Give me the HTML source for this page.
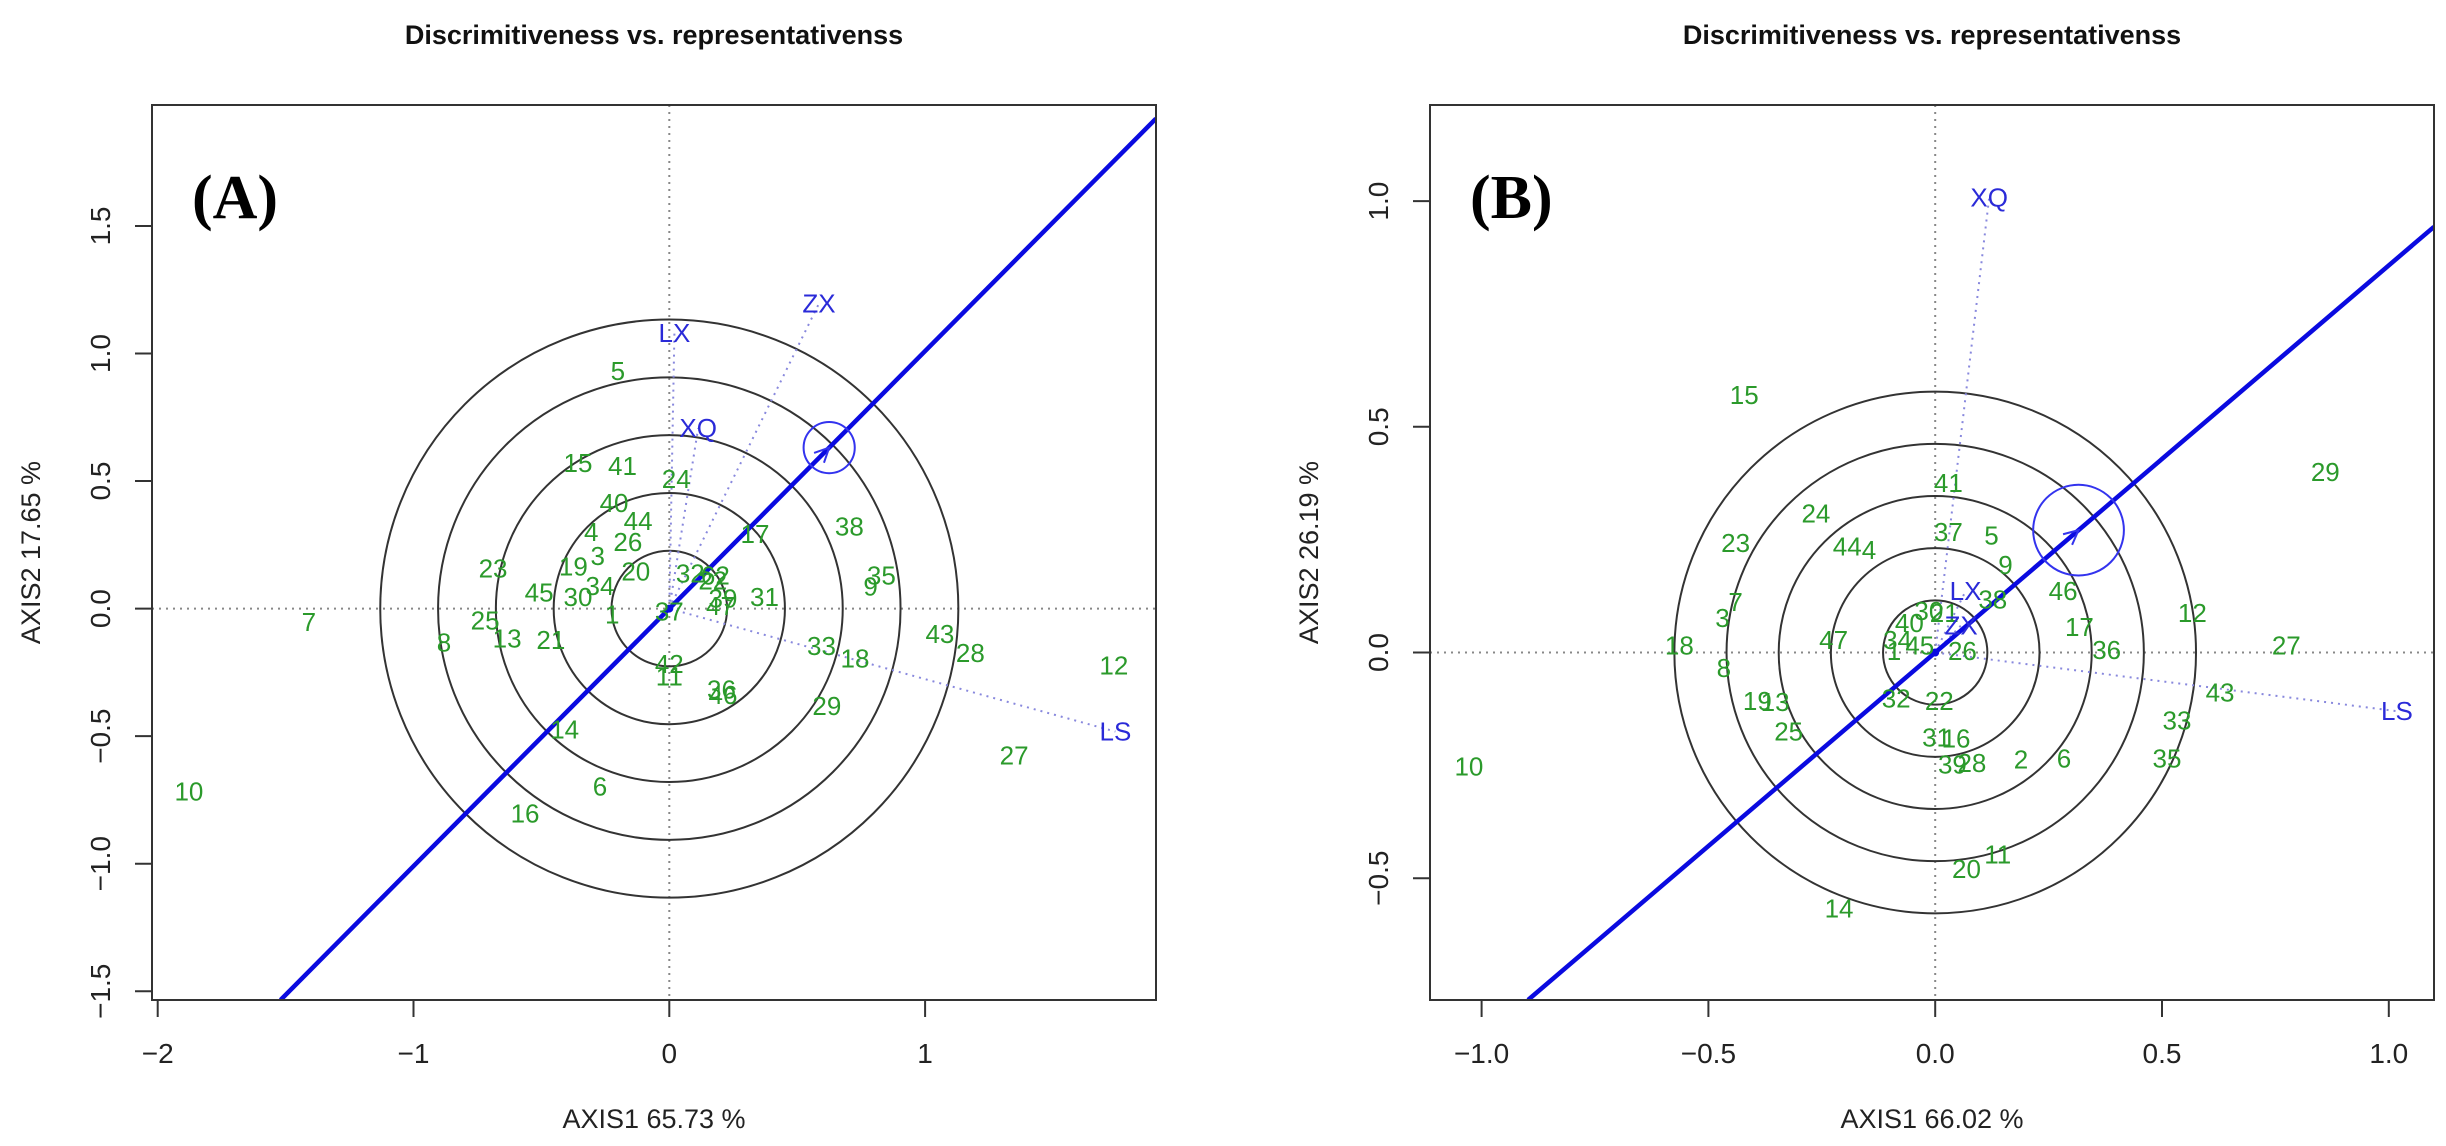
<!DOCTYPE html>
<html><head><meta charset="utf-8">
<style>
html,body{margin:0;padding:0;background:#fff;width:2446px;height:1146px;overflow:hidden;}
svg{display:block;font-family:"Liberation Sans",Arial,sans-serif;}
</style></head>
<body>
<svg id="chart" width="2446" height="1146" viewBox="0 0 2446 1146" xmlns="http://www.w3.org/2000/svg"></svg>
<script>
// ---------- Panel A data ----------
const aGenotypes = ["5","15","41","24","40","44","4","26","17","38","3","19","23","20","32","62","35","9","45","30","34","31","1","37","7","25","13","21","8","33","18","43","28","12","42","11","36","46","29","14","27","6","16","10","22","47","39"];
const aGx = [-0.201,-0.357,-0.183,0.027,-0.216,-0.122,-0.305,-0.162,0.335,0.704,-0.280,-0.375,-0.689,-0.131,0.082,0.180,0.829,0.787,-0.509,-0.357,-0.271,0.372,-0.223,0.0,-1.409,-0.72,-0.634,-0.463,-0.881,0.595,0.726,1.058,1.177,1.738,0.0,0.0,0.204,0.21,0.616,-0.409,1.348,-0.271,-0.564,-1.878,0.17,0.20,0.21];
const aGy = [0.932,0.571,0.559,0.508,0.413,0.344,0.301,0.261,0.293,0.321,0.206,0.166,0.158,0.146,0.138,0.13,0.129,0.086,0.063,0.046,0.089,0.046,-0.023,-0.011,-0.052,-0.046,-0.118,-0.123,-0.132,-0.146,-0.195,-0.1,-0.175,-0.224,-0.218,-0.267,-0.318,-0.338,-0.381,-0.473,-0.576,-0.697,-0.803,-0.717,0.11,0.01,0.04];
const aEnvNames = ["ZX","LX","XQ","LS"];
const aEnvX = [0.585,0.02,0.113,1.744];
const aEnvY = [1.196,1.08,0.708,-0.482];
const aCircleRadii = [0.226,0.452,0.678,0.904,1.13];
const aAEC = [0.625,0.631];
const aXTicks = [-2,-1,0,1];
const aXTickLabels = ["\u22122","\u22121","0","1"];
const aYTicks = [-1.5,-1.0,-0.5,0.0,0.5,1.0,1.5];
const aYTickLabels = ["\u22121.5","\u22121.0","\u22120.5","0.0","0.5","1.0","1.5"];

// ---------- Panel B data ----------
const bGenotypes = ["15","29","41","24","23","37","5","44","4","9","46","38","12","7","3","17","36","27","18","47","8","30","40","34","45","1","26","21","43","32","22","19","13","33","25","31","16","35","10","39","28","2","6","11","20","14"];
const bGx = [-0.421,0.860,0.029,-0.263,-0.440,0.029,0.124,-0.194,-0.146,0.155,0.282,0.127,0.567,-0.44,-0.469,0.318,0.378,0.774,-0.564,-0.224,-0.466,-0.014,-0.057,-0.083,-0.034,-0.091,0.06,0.02,0.628,-0.086,0.009,-0.392,-0.353,0.533,-0.323,0.003,0.046,0.511,-1.028,0.038,0.081,0.189,0.284,0.138,0.069,-0.212];
const bGy = [0.571,0.400,0.376,0.308,0.243,0.267,0.259,0.235,0.227,0.194,0.136,0.117,0.088,0.112,0.076,0.057,0.006,0.015,0.015,0.028,-0.034,0.092,0.065,0.028,0.016,0.003,0.003,0.088,-0.089,-0.102,-0.107,-0.107,-0.11,-0.151,-0.175,-0.188,-0.191,-0.235,-0.253,-0.248,-0.245,-0.237,-0.235,-0.447,-0.48,-0.567];
const bEnvNames = ["XQ","LX","ZX","LS"];
const bEnvX = [0.119,0.067,0.057,1.018];
const bEnvY = [1.008,0.136,0.06,-0.13];
const bCircleRadii = [0.115,0.23,0.345,0.46,0.575];
const bAEC = [0.316,0.271];
const bXTicks = [-1.0,-0.5,0.0,0.5,1.0];
const bXTickLabels = ["\u22121.0","\u22120.5","0.0","0.5","1.0"];
const bYTicks = [-0.5,0.0,0.5,1.0];
const bYTickLabels = ["\u22120.5","0.0","0.5","1.0"];

const NS = "http://www.w3.org/2000/svg";
const svg = document.getElementById("chart");
function mk(tag, attrs, parent){
  const e = document.createElementNS(NS, tag);
  for (const k in attrs) e.setAttribute(k, attrs[k]);
  (parent||svg).appendChild(e);
  return e;
}

function panel(p){
  const g = mk("g", {});
  
  
  const sx = v => p.x0 + v * p.ux;
  const sy = v => p.y0 - v * p.uy;
  const ix = X => (X - p.x0) / p.ux;
  const iy = Y => (p.y0 - Y) / p.uy;
  const L = p.box[0], R = p.box[1], T = p.box[2], B = p.box[3];

  const clip = mk("clipPath", {id: p.id + "-clip"}, g);
  mk("rect", {x: L, y: T, width: R - L, height: B - T}, clip);

  const t = mk("text", {x: (L + R) / 2, y: 44, "text-anchor": "middle", "font-size": 27, "font-weight": "bold", fill: "#111"}, g);
  t.textContent = "Discrimitiveness vs. representativenss";
  
  

  const plot = mk("g", {"clip-path": "url(#" + p.id + "-clip)"}, g);
  
  

  const h = mk("line", {x1: L, x2: R, y1: sy(0), y2: sy(0), stroke: "#888", "stroke-width": 2, "stroke-dasharray": "2,5"}, plot);
  
  
  const v = mk("line", {x1: sx(0), x2: sx(0), y1: T, y2: B, stroke: "#888", "stroke-width": 2, "stroke-dasharray": "2,5"}, plot);
  
  

  p.radii.forEach((r) => {
    const c = mk("circle", {cx: sx(0), cy: sy(0), r: r * p.ux, fill: "none", stroke: "#333", "stroke-width": 2}, plot);
    
    
  });

  p.envNames.forEach((n, i) => {
    const ln = mk("line", {x1: sx(0), y1: sy(0), x2: sx(p.envX[i]), y2: sy(p.envY[i]), stroke: "#8888dd", "stroke-width": 2, "stroke-dasharray": "2,5"}, plot);
    
    
  });

  // AEC line clipped mathematically to the box
  const slope = p.aec[1] / p.aec[0];
  const xmin = ix(L), xmax = ix(R), ymin = iy(B), ymax = iy(T);
  const xa = Math.max(xmin, ymin / slope);
  const xb = Math.min(xmax, ymax / slope);
  const al = mk("line", {x1: sx(xa), y1: sy(xa * slope), x2: sx(xb), y2: sy(xb * slope), stroke: "#0a0ae0", "stroke-width": 4.5}, plot);
  
  
  const ac = mk("circle", {cx: sx(p.aec[0]), cy: sy(p.aec[1]), r: 0.1 * p.ux, fill: "none", stroke: "#3333ee", "stroke-width": 2}, plot);
  
  
  const ang = Math.atan2(-(p.aec[1]) * p.uy, p.aec[0] * p.ux);
  const hx = sx(p.aec[0]), hy = sy(p.aec[1]);
  const a1 = ang + Math.PI - 0.45, a2 = ang + Math.PI + 0.45;
  const ah = mk("path", {d: "M" + (hx + 16 * Math.cos(a1)) + "," + (hy + 16 * Math.sin(a1)) + " L" + hx + "," + hy + " L" + (hx + 16 * Math.cos(a2)) + "," + (hy + 16 * Math.sin(a2)), fill: "none", stroke: "#3333ee", "stroke-width": 2}, plot);
  
  
  const dot = mk("circle", {cx: sx(0), cy: sy(0), r: 4, fill: "#0a0ae0"}, plot);
  
  

  p.gen.forEach((n, i) => {
    const tx = mk("text", {x: sx(p.gx[i]), y: sy(p.gy[i]) + 9, "text-anchor": "middle", "font-size": 26, fill: "#2b9a2b"}, plot);
    tx.textContent = n;
    
    
  });
  p.envNames.forEach((n, i) => {
    const tx = mk("text", {x: sx(p.envX[i]), y: sy(p.envY[i]) + 9, "text-anchor": "middle", "font-size": 26, fill: "#2a2ad8"}, plot);
    tx.textContent = n;
    
    
  });

  const bx = mk("rect", {x: L, y: T, width: R - L, height: B - T, fill: "none", stroke: "#333", "stroke-width": 2}, g);
  
  

  p.xt.forEach((tv, i) => {
    const X = sx(tv);
    const tk = mk("line", {x1: X, x2: X, y1: B, y2: B + 17, stroke: "#333", "stroke-width": 2}, g);
    
    
    const tl = mk("text", {x: X, y: B + 63, "text-anchor": "middle", "font-size": 28, fill: "#222"}, g);
    tl.textContent = p.xtl[i];
    
    
  });
  const xax = mk("line", {x1: sx(p.xt[0]), x2: sx(p.xt[p.xt.length - 1]), y1: B, y2: B, stroke: "#333", "stroke-width": 2}, g);
  
  
  p.yt.forEach((tv, i) => {
    const Y = sy(tv);
    const tk = mk("line", {x1: L - 17, x2: L, y1: Y, y2: Y, stroke: "#333", "stroke-width": 2}, g);
    
    
    const tl = mk("text", {x: 0, y: 0, "text-anchor": "middle", "font-size": 28, fill: "#222", transform: "translate(" + (L - 42) + "," + Y + ") rotate(-90)"}, g);
    tl.textContent = p.ytl[i];
    
    
  });
  const yax = mk("line", {x1: L, x2: L, y1: sy(p.yt[0]), y2: sy(p.yt[p.yt.length - 1]), stroke: "#333", "stroke-width": 2}, g);
  
  

  const xtTitle = mk("text", {x: (L + R) / 2, y: 1128, "text-anchor": "middle", "font-size": 27, fill: "#222"}, g);
  xtTitle.textContent = p.xTitle;
  
  
  const ytTitle = mk("text", {x: 0, y: 0, "text-anchor": "middle", "font-size": 27, fill: "#222", transform: "translate(" + (L - 112) + "," + ((T + B) / 2) + ") rotate(-90)"}, g);
  ytTitle.textContent = p.yTitle;
  
  

  const pl = mk("text", {x: L + 40, y: T + 113, "font-size": 62, "font-weight": "bold", "font-family": "Liberation Serif, serif", fill: "#000"}, g);
  pl.textContent = p.label;
  
  
}

panel({id: "a", box: [152, 1156, 105, 1000], x0: 669.3, ux: 255.8, y0: 608.6, uy: 255.1,
  gen: aGenotypes, gx: aGx, gy: aGy, envNames: aEnvNames, envX: aEnvX, envY: aEnvY,
  radii: aCircleRadii, aec: aAEC, xt: aXTicks, xtl: aXTickLabels, yt: aYTicks, ytl: aYTickLabels,
  xTitle: "AXIS1 65.73 %", yTitle: "AXIS2 17.65 %", label: "(A)"});
panel({id: "b", box: [1430, 2434, 105, 1000], x0: 1935.2, ux: 453.6, y0: 652.5, uy: 451.4,
  gen: bGenotypes, gx: bGx, gy: bGy, envNames: bEnvNames, envX: bEnvX, envY: bEnvY,
  radii: bCircleRadii, aec: bAEC, xt: bXTicks, xtl: bXTickLabels, yt: bYTicks, ytl: bYTickLabels,
  xTitle: "AXIS1 66.02 %", yTitle: "AXIS2 26.19 %", label: "(B)"});
</script>
</body></html>
